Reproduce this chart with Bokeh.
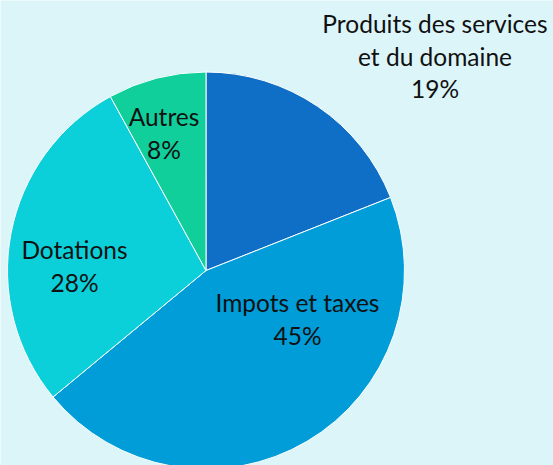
import math
from bokeh.plotting import figure
from bokeh.models import ColumnDataSource, Range1d
from bokeh.core.properties import value
from bokeh.embed import file_html
from bokeh.resources import INLINE

categories = ["Produits des services\net du domaine", "Impots et taxes", "Dotations", "Autres"]
percents = [19, 45, 28, 8]
colors = ["#0F6FC6", "#009DD9", "#0BD0D9", "#10CF9B"]

W, H = 553, 465
BG = "#DBF5F9"

cx, cy, r = 205.5, 195.0, 198.5

total = sum(percents)
starts, ends = [], []
cum = 0.0
for v in percents:
    starts.append(math.pi / 2 - 2 * math.pi * cum / total)
    cum += v
    ends.append(math.pi / 2 - 2 * math.pi * cum / total)

src = ColumnDataSource(dict(start=starts, end=ends, color=colors))

p = figure(width=W, height=H, output_backend="svg", toolbar_location=None,
           x_range=Range1d(0, W), y_range=Range1d(0, H), min_border=0,
           background_fill_color=BG, border_fill_color=BG, outline_line_color=None)
p.axis.visible = False
p.grid.visible = False

p.wedge(x=cx, y=cy, radius=r, start_angle="start", end_angle="end", direction="clock",
        fill_color="color", line_color="white", line_width=1, source=src)

# label anchor offsets (pixels from pie centre, first line centre) and line spacing
label_offsets = [(229.0, 247.0), (91.5, -32.0), (-131.5, 21.0), (-42.0, 154.0)]
line_gap = 32.5

xs, ys, texts = [], [], []
for cat, v, (dx, dy) in zip(categories, percents, label_offsets):
    lines = cat.split("\n") + [f"{v}%"]
    for i, ln in enumerate(lines):
        xs.append(cx + dx)
        ys.append(cy + dy - i * line_gap)
        texts.append(ln)

p.text(x=xs, y=ys, text=texts, text_align="center", text_baseline="middle",
       text_font=value("Lato"), text_font_size="24.5px", text_color="#111111")

open("out.html", "w").write(file_html(p, INLINE))
